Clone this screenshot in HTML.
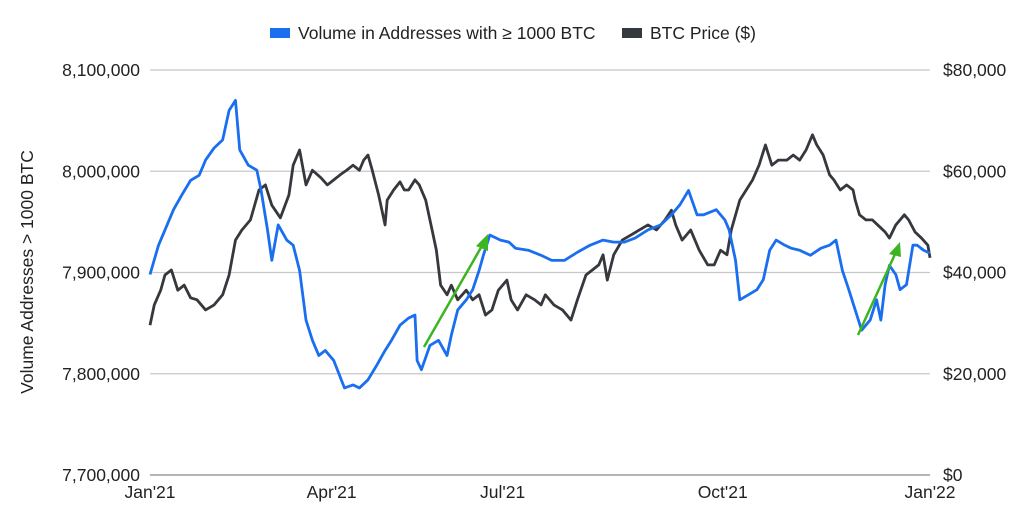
<!DOCTYPE html>
<html><head><meta charset="utf-8"><style>
body{margin:0;background:#fff;font-family:"Liberation Sans",Arial,sans-serif;}
svg text{font-family:"Liberation Sans",Arial,sans-serif;fill:#222;}
</style></head><body>
<svg id="chart" width="1024" height="522" viewBox="0 0 1024 522" xmlns="http://www.w3.org/2000/svg">
<g id="grid"></g>
<g id="yl"></g>
<g id="yr"></g>
<g id="xa"></g>
<text transform="translate(33,272) rotate(-90)" text-anchor="middle" font-size="17.5">Volume Addresses &gt; 1000 BTC</text>
<g>
<g><rect x="270" y="28" width="20" height="10" fill="#1a6ef0"/><text x="298" y="39" font-size="17.5">Volume in Addresses with ≥ 1000 BTC</text></g>
<g><rect x="622" y="28" width="20" height="10" fill="#35383c"/><text x="650" y="39" font-size="17.5">BTC Price ($)</text></g>
</g>
<g id="series"></g>
<g stroke="#3cb521" stroke-width="2.5" fill="#3cb521">
<line x1="424" y1="347" x2="483" y2="244"/>
<polygon points="488,234 476,246 488,251" stroke="none"/>
<line x1="858" y1="335" x2="896" y2="252"/>
<polygon points="900,242 889,254 901,257" stroke="none"/>
</g>
</svg>
<script>
const volDays=[0,4,8,11,15,19,23,26,30,34,37,40,42,46,50,52,55,57,60,64,67,70,73,76,79,82,86,91,95,98,102,106,110,113,117,121,124,125,127,131,135,139,141,144,148,151,154,156,159,164,168,171,177,183,188,194,200,206,212,217,222,227,233,239,244,248,252,256,259,265,269,271,274,276,280,284,287,290,293,297,300,304,309,314,318,321,324,327,330,333,337,340,342,344,346,349,351,354,357,359,362,365];
const volValues=[7898,7927,7947,7962,7977,7991,7996,8011,8023,8031,8060,8070,8021,8006,8001,7981,7942,7912,7947,7932,7927,7902,7853,7833,7818,7823,7813,7786,7789,7786,7794,7808,7823,7833,7848,7855,7858,7813,7804,7828,7833,7818,7838,7863,7873,7883,7902,7917,7937,7932,7930,7924,7922,7917,7912,7912,7920,7927,7932,7930,7930,7934,7942,7947,7957,7967,7981,7957,7957,7962,7952,7942,7912,7873,7878,7883,7893,7922,7932,7927,7924,7922,7917,7924,7927,7932,7902,7883,7863,7843,7853,7873,7853,7888,7907,7898,7883,7888,7927,7927,7922,7919];
const priceDays=[0,2,5,7,10,13,16,19,22,26,30,34,37,40,43,47,51,54,57,61,65,67,70,73,76,80,83,86,89,92,95,98,100,102,104,107,110,111,114,117,119,121,124,126,129,132,134,136,139,141,144,148,151,154,157,160,163,167,169,172,176,180,183,185,189,193,197,200,204,207,210,212,214,217,221,225,229,233,237,241,244,246,249,253,257,261,264,267,270,272,276,279,282,285,288,291,294,298,301,304,307,310,312,315,318,320,323,326,329,330,332,335,338,342,344,346,349,353,355,358,361,364,365];
const priceValues=[29.6,33.6,36.5,39.5,40.5,36.5,37.5,35,34.6,32.6,33.6,35.6,39.5,46.4,48.4,50.4,56.3,57.3,53.3,50.8,55.3,61.2,64.2,57.3,60.2,58.7,57.3,58.3,59.3,60.2,61.2,60.2,62.2,63.2,60.2,55.3,49.4,54.3,56.3,57.9,56.3,56.3,58.3,57.3,54.3,48.4,44.4,37.5,35.6,37.5,34.6,36.5,34.6,35.6,31.6,32.6,36.5,38.5,34.6,32.6,35.6,34.6,33.6,35.6,33.6,32.6,30.6,34.6,39.5,40.5,41.5,43.5,38.5,43.5,46.4,47.4,48.4,49.4,48.4,50.4,52.3,49.4,46.4,48.4,44.4,41.5,41.5,44.4,43.5,48.4,54.3,56.3,58.3,61.2,65.2,61.2,62.2,62.2,63.2,62.2,64.2,67.2,65.2,63.2,59.3,58.3,56.3,57.3,56.3,54.3,51.4,50.4,50.4,48.8,48,46.8,49.4,51.4,50.4,48,46.8,45.4,42.9];
const leftTicks=[7700000,7800000,7900000,8000000,8100000];
const rightTicks=[0,20000,40000,60000,80000];
const xLabels=["Jan'21","Apr'21","Jul'21","Oct'21","Jan'22"];
const xLabelPos=[0,85,165,268,365];
const X0=150,X1=930,Y0=475,Y1=70;
const x=d=>X0+d/365*(X1-X0);
const yV=v=>Y0-(v-7700000)/400000*(Y0-Y1);
const yP=p=>Y0-p/80000*(Y0-Y1);
const NS="http://www.w3.org/2000/svg";
function mk(t,a,parent){const e=document.createElementNS(NS,t);for(const k in a)e.setAttribute(k,a[k]);parent.appendChild(e);return e;}
const grid=document.getElementById('grid'),yl=document.getElementById('yl'),yr=document.getElementById('yr'),xa=document.getElementById('xa'),ser=document.getElementById('series');
leftTicks.forEach((v,i)=>{
 const g=mk('line',{x1:X0,x2:X1,y1:yV(v),y2:yV(v),stroke:i==0?'#888':'#c8c8c8','stroke-width':1.2},grid);
 
 
 const t=mk('text',{x:140,y:yV(v)+6,'text-anchor':'end','font-size':17.5},yl);t.textContent=v.toLocaleString('en-US');
 
 
});
rightTicks.forEach(v=>{
 const t=mk('text',{x:943,y:yP(v)+6,'font-size':17.5},yr);t.textContent='$'+v.toLocaleString('en-US');
 
 
});
xLabels.forEach((l,i)=>{
 const t=mk('text',{x:x(xLabelPos[i]),y:498,'text-anchor':'middle','font-size':17.5},xa);t.textContent=l;
 
 
});
const pv=mk('polyline',{points:priceDays.map((d,i)=>x(d)+','+yP(priceValues[i]*1000)).join(' '),fill:'none',stroke:'#35383c','stroke-width':2.8,'stroke-linejoin':'round'},ser);


const vv=mk('polyline',{points:volDays.map((d,i)=>x(d)+','+yV(volValues[i]*1000)).join(' '),fill:'none',stroke:'#1a6ef0','stroke-width':2.8,'stroke-linejoin':'round'},ser);


</script>
</body></html>
